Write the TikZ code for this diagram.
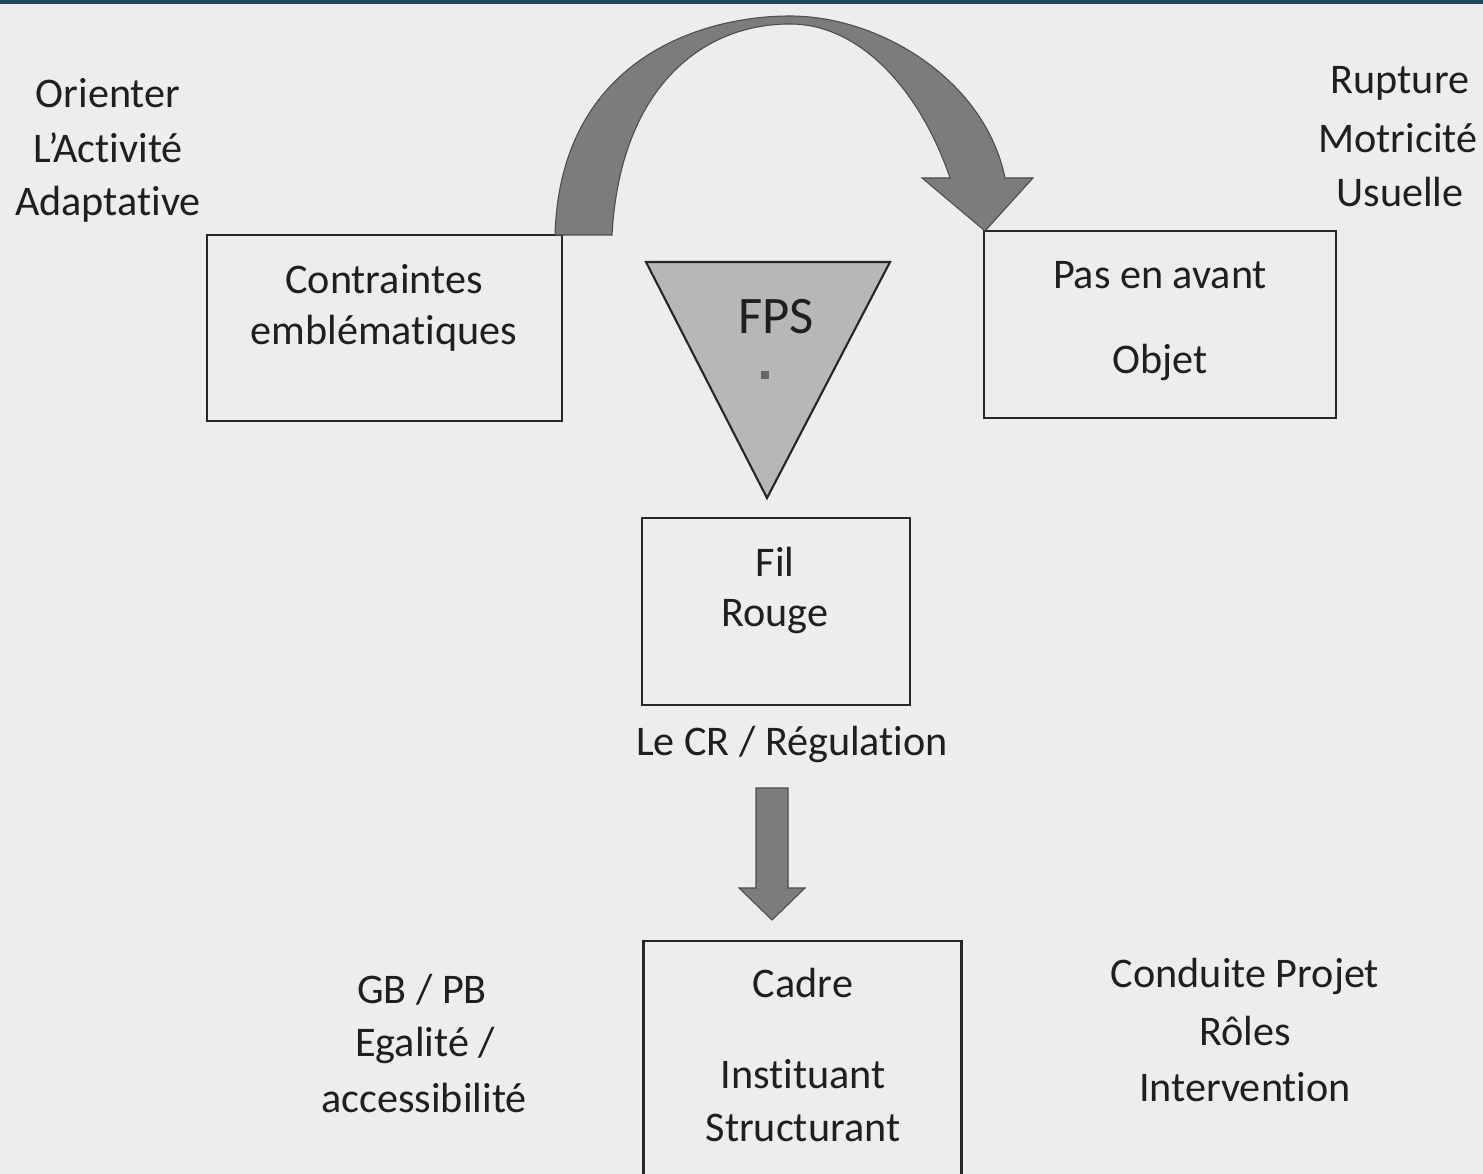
\documentclass[tikz,border=0pt]{standalone}
\usepackage{fontspec}
\setmainfont{Carlito}[RawFeature={-liga;-clig;-calt;-dlig}]
\definecolor{bgc}{HTML}{EDEDED}
\definecolor{topband}{HTML}{1B4A63}
\definecolor{arcfill}{HTML}{7C7C7C}
\definecolor{trifill}{HTML}{B7B7B7}
\definecolor{edgec}{HTML}{262626}
\tikzset{
  boxnode/.style={draw=edgec, line width=0.75pt, fill=none, inner sep=0pt},
  lbl/.style={font=\fontsize{12}{14}\selectfont, text=black!88, inner sep=0pt, anchor=center},
  bigarrow/.style={fill=arcfill, draw=black!70, line width=0.3pt},
}
\begin{document}
\begin{tikzpicture}[x=0.01cm,y=-0.01cm]
\useasboundingbox (0,0) rectangle (1483,1174);
\clip (0,0) rectangle (1483,1174);
\fill[bgc] (0,0) rectangle (1483,1174);
\fill[topband] (0,0) rectangle (1483,4);

% boxes
\node[boxnode, minimum width=3.55cm, minimum height=1.86cm] (contr) at (384.5,328) {};
\node[boxnode, minimum width=3.52cm, minimum height=1.87cm] (pas) at (1160,324.5) {};
\node[boxnode, minimum width=2.68cm, minimum height=1.87cm] (fil) at (776,611.5) {};
\node[boxnode, minimum width=3.18cm, minimum height=2.60cm] (cadre) at (802.5,1071) {};

% FPS triangle
\coordinate (tA) at (646,262);
\coordinate (tB) at (890,262);
\coordinate (tC) at (767,498);
\draw[edgec, line width=0.6pt, fill=trifill] (tA) -- (tB) -- (tC) -- cycle;
\fill[black!60] (761,371) rectangle (769,379);

% curved arrow from Contraintes to Pas en avant
\draw[bigarrow] (555,235) .. controls (560,60) and (700,16) .. (790,16)
  .. controls (880,16) and (985,80) .. (1005,178)
  -- (1033,178) -- (985,231) -- (922,178) -- (950,178)
  .. controls (920,90) and (860,24) .. (790,24)
  .. controls (700,24) and (620,90) .. (612,235) -- cycle;

% down arrow from Le CR to Cadre
\draw[bigarrow] (756,788) -- (788,788) -- (788,888) -- (805,888) -- (772,920)
  -- (739,888) -- (756,888) -- cycle;

% labels
\node[lbl] (t1) at (108,93) {Orienter};
\node[lbl] (t2) at (108,148) {L’Activité};
\node[lbl] (t3) at (108,204) {Adaptative};
\node[lbl] (r1) at (1400,83) {Rupture};
\node[lbl] (r2) at (1398,138) {Motricité};
\node[lbl] (r3) at (1400,192) {Usuelle};
\node[lbl] (c1) at (384,279) {Contraintes};
\node[lbl] (c2) at (384,333) {emblématiques};
\node[lbl] (p1) at (1160,275) {Pas en avant};
\node[lbl] (p2) at (1160,362) {Objet};
\node[lbl, font=\fontsize{15}{18}\selectfont] (fps) at (776,317) {FPS};
\node[lbl] (f1) at (775,562) {Fil};
\node[lbl] (f2) at (775,617) {Rouge};
\node[lbl] (cr) at (792,744) {Le CR / Régulation};
\node[lbl] (g1) at (422,990) {GB / PB};
\node[lbl] (g2) at (425,1045) {Egalité /};
\node[lbl] (g3) at (424,1098) {accessibilité};
\node[lbl] (k1) at (803,983) {Cadre};
\node[lbl] (k2) at (803,1074) {Instituant};
\node[lbl] (k3) at (803,1128) {Structurant};
\node[lbl] (d1) at (1245,976) {Conduite Projet};
\node[lbl] (d2) at (1245,1031) {Rôles};
\node[lbl] (d3) at (1245,1087) {Intervention};
\end{tikzpicture}
\end{document}
